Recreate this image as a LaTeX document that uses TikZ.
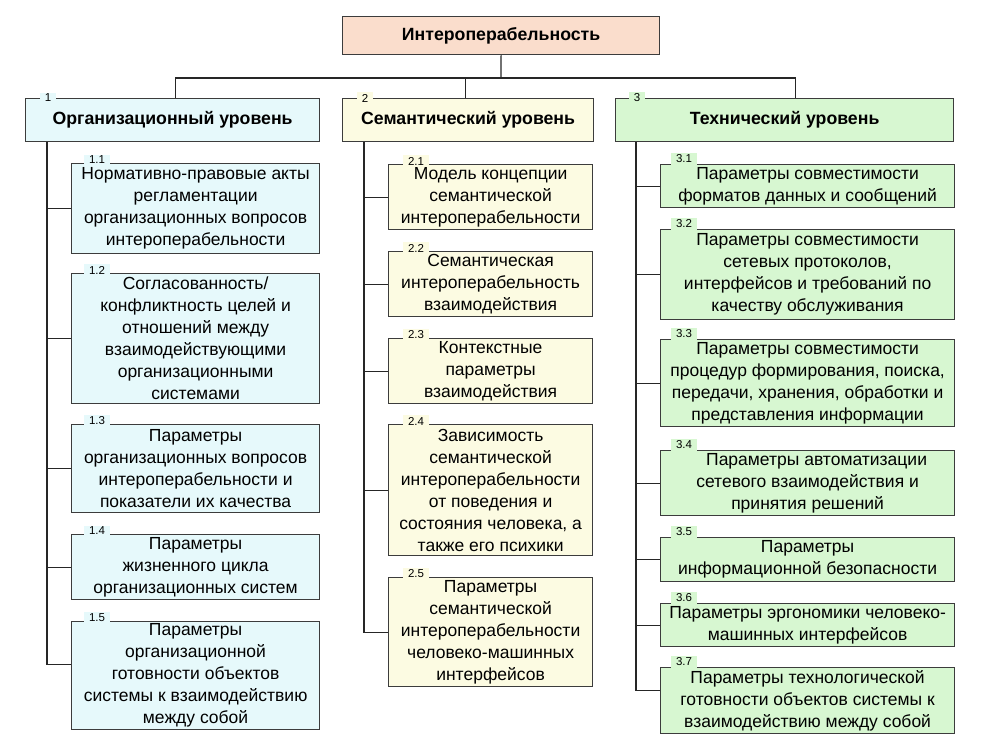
\documentclass[tikz,border=0pt]{standalone}
\usepackage{fontspec}
\setmainfont{Liberation Sans}
\definecolor{bord}{HTML}{3C3C3C}
\definecolor{cTop}{HTML}{FADDCC}
\definecolor{cOrg}{HTML}{E6F9FB}
\definecolor{cSem}{HTML}{FCFBE2}
\definecolor{cTec}{HTML}{D7F7D1}
\tikzset{
  bx/.style={draw=bord, line width=1.2pt, anchor=north west, align=center, inner sep=1pt,
    font=\fontsize{17.5}{22}\selectfont},
  hd/.style={bx, font=\fontsize{17.7}{20}\selectfont\bfseries},
  tab/.style={inner xsep=5pt, inner ysep=1.5pt, font=\fontsize{11.5}{12}\selectfont},
  conn/.style={line width=1.2pt, draw=black!85},
}
\begin{document}
\begin{tikzpicture}[x=1pt,y=-1pt]
\useasboundingbox (0,0) rectangle (986,742);
% top
\node[hd, fill=cTop, minimum width=317, minimum height=38] (top) at (342,16) {Интероперабельность};
% levels
\node[hd, fill=cOrg, minimum width=294, minimum height=43] (l1) at (25,98) {Организационный уровень};
\node[hd, fill=cSem, minimum width=251, minimum height=43] (l2) at (342,98) {Семантический уровень};
\node[hd, fill=cTec, minimum width=338, minimum height=43] (l3) at (615,98) {Технический уровень};
\node[tab, fill=cOrg] (t1) at ([xshift=23pt]l1.north west) {1};
\node[tab, fill=cSem] (t2) at ([xshift=23pt]l2.north west) {2};
\node[tab, fill=cTec] (t3) at ([xshift=22pt]l3.north west) {3};
% column 1
\node[bx, fill=cOrg, minimum width=248, minimum height=90] (b11) at (71,163) {Нормативно-правовые акты\\регламентации\\организационных вопросов\\интероперабельности};
\node[bx, fill=cOrg, minimum width=248, minimum height=130] (b12) at (71,273) {Согласованность/\\конфликтность целей и\\отношений между\\взаимодействующими\\организационными\\системами};
\node[bx, fill=cOrg, minimum width=248, minimum height=88] (b13) at (71,424) {Параметры\\организационных вопросов\\интероперабельности и\\показатели их качества};
\node[bx, fill=cOrg, minimum width=248, minimum height=65] (b14) at (71,534) {Параметры\\жизненного цикла\\организационных систем};
\node[bx, fill=cOrg, minimum width=248, minimum height=108] (b15) at (71,621) {Параметры\\организационной\\готовности объектов\\системы к взаимодействию\\между собой};
% column 2
\node[bx, fill=cSem, minimum width=204, minimum height=65] (b21) at (388,164) {Модель концепции\\семантической\\интероперабельности};
\node[bx, fill=cSem, minimum width=204, minimum height=65] (b22) at (388,251) {Семантическая\\интероперабельность\\взаимодействия};
\node[bx, fill=cSem, minimum width=204, minimum height=65] (b23) at (388,338) {Контекстные\\параметры\\взаимодействия};
\node[bx, fill=cSem, minimum width=204, minimum height=131] (b24) at (388,424) {Зависимость\\семантической\\интероперабельности\\от поведения и\\состояния человека, а\\также его психики};
\node[bx, fill=cSem, minimum width=204, minimum height=109] (b25) at (388,577) {Параметры\\семантической\\интероперабельности\\человеко-машинных\\интерфейсов};
% column 3
\node[bx, fill=cTec, minimum width=294, minimum height=43] (b31) at (660,164) {Параметры совместимости\\форматов данных и сообщений};
\node[bx, fill=cTec, minimum width=294, minimum height=90] (b32) at (660,229) {Параметры совместимости\\сетевых протоколов,\\интерфейсов и требований по\\качеству обслуживания};
\node[bx, fill=cTec, minimum width=294, minimum height=87] (b33) at (660,339) {Параметры совместимости\\процедур формирования, поиска,\\передачи, хранения, обработки и\\представления информации};
\node[bx, fill=cTec, minimum width=294, minimum height=65] (b34) at (660,450) {\hspace*{18pt}Параметры автоматизации\\сетевого взаимодействия и\\принятия решений};
\node[bx, fill=cTec, minimum width=294, minimum height=44] (b35) at (660,537) {Параметры\\информационной безопасности};
\node[bx, fill=cTec, minimum width=294, minimum height=43] (b36) at (660,603) {Параметры эргономики человеко-\\машинных интерфейсов};
\node[bx, fill=cTec, minimum width=294, minimum height=66] (b37) at (660,667) {Параметры технологической\\готовности объектов системы к\\взаимодействию между собой};
% tabs
\foreach \n in {11,12,13,14,15}{\node[tab, fill=cOrg] (t\n) at ([xshift=26pt,yshift=3pt]b\n.north west) {\ifcase\numexpr\n-10\relax\or1.1\or1.2\or1.3\or1.4\or1.5\fi};}
\foreach \n in {21,22,23,24,25}{\node[tab, fill=cSem] (t\n) at ([xshift=28pt,yshift=3pt]b\n.north west) {\ifcase\numexpr\n-20\relax\or2.1\or2.2\or2.3\or2.4\or2.5\fi};}
\foreach \n in {31,32,33,34,35,36,37}{\node[tab, fill=cTec] (t\n) at ([xshift=24pt,yshift=5pt]b\n.north west) {\ifcase\numexpr\n-30\relax\or3.1\or3.2\or3.3\or3.4\or3.5\or3.6\or3.7\fi};}
% connectors top
\coordinate (hub) at (501,78);
\draw[conn] (top.south) -- (hub);
\draw[conn] ([xshift=3pt]l1.north) -- ++(0,-20) -| ([xshift=11pt]l3.north);
\draw[conn] ([xshift=-3pt]l2.north) -- ++(0,-20);
% spines
\coordinate (s1) at ([xshift=22pt]l1.south west);
\coordinate (s2) at ([xshift=22pt]l2.south west);
\coordinate (s3) at ([xshift=21pt]l3.south west);
\foreach \n in {11,12,13,14}{\draw[conn] (s1) |- (b\n.west);}
\draw[conn] (s1) |- ([yshift=11pt]b15.west);
\foreach \n in {21,22,23,24,25}{\draw[conn] (s2) |- (b\n.west);}
\foreach \n in {31,32,33,34,35,36}{\draw[conn] (s3) |- (b\n.west);}
\draw[conn] (s3) |- ([yshift=10pt]b37.west);
\end{tikzpicture}
\end{document}
